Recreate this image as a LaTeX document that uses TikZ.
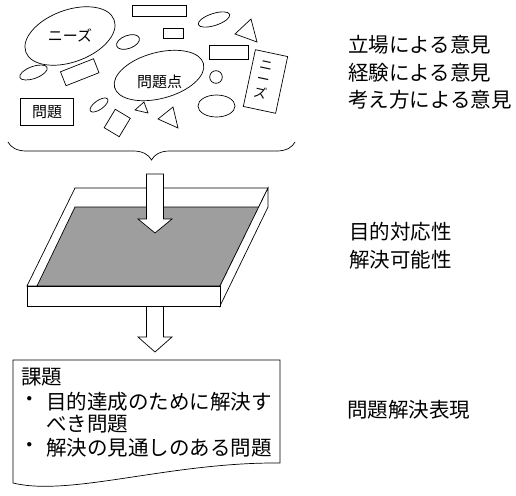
\documentclass[tikz,border=0pt]{standalone}
\usepackage{fontspec}
\setmainfont{Noto Sans CJK JP}
\usetikzlibrary{shapes.geometric,decorations.pathreplacing}
\begin{document}
\begin{tikzpicture}[x=1pt,y=-1pt,line width=0.7pt,
  shp/.style={draw, inner sep=0pt, outer sep=0pt},
  ell/.style={shp, ellipse},
  rct/.style={shp, rectangle},
  lbl/.style={inner sep=0pt, font=\fontsize{15}{16}\selectfont},
  side/.style={inner sep=0pt, anchor=west, font=\fontsize{20.5}{24}\selectfont},
  bul/.style={inner sep=0pt, font=\fontsize{20.5}{24}\selectfont},
  blockarrow/.style={draw, fill=white, line join=miter},
]
\useasboundingbox (0,0) rectangle (516,495);

% ellipses
\node[ell, minimum width=94pt, minimum height=52pt, rotate=20] (e1) at (70,36) {};
\node[ell, minimum width=92pt, minimum height=46pt, rotate=15] (e2) at (159,75.5) {};
\node[ell, minimum width=24pt, minimum height=13pt, rotate=20] (e3) at (128,42) {};
\node[ell, minimum width=33pt, minimum height=12pt, rotate=18] (e4) at (214,19.5) {};
\node[ell, minimum width=29pt, minimum height=12pt, rotate=20] (e5) at (33.5,72.5) {};
\node[ell, minimum width=21pt, minimum height=9pt, rotate=35] (e6) at (99,105) {};
\node[ell, minimum width=12.6pt, minimum height=12.6pt] (e7) at (216,77) {};
\node[ell, minimum width=37pt, minimum height=22pt] (e8) at (216.5,106) {};

% rectangles
\node[rct, minimum width=54pt, minimum height=11pt] (r1) at (159,10.5) {};
\node[rct, minimum width=20pt, minimum height=10pt] (r2) at (173,33) {};
\node[rct, minimum width=39pt, minimum height=14pt] (r3) at (228.5,52) {};
\node[rct, minimum width=53pt, minimum height=27pt] (r4) at (46.5,111.5) {};
\node[rct, minimum width=35.5pt, minimum height=15pt, rotate=21.5] (r5) at (79.75,72.25) {};
\node[rct, minimum width=17.5pt, minimum height=21.5pt, rotate=-31] (r6) at (117.25,123) {};
\node[rct, minimum width=33pt, minimum height=58pt, rotate=-12] (r7) at (265.5,81.5) {};

% triangles
\draw[line join=miter] (235,34) -- (251,19) -- (257,42) -- cycle;
\draw[line join=miter] (135,110) -- (144,102) -- (148,113) -- cycle;
\draw[line join=miter] (158,119) -- (173,107) -- (178,128) -- cycle;

% labels in shapes
\node[lbl] (t1) at (70,35) {ニーズ};
\node[lbl] (t2) at (159.5,82) {問題点};
\node[lbl] (t3) at (47,112) {問題};
\node[inner sep=0pt, align=center, rotate=-12, font=\fontsize{13}{14.5}\selectfont] (t4) at (263,80) {ニ\\ー\\ズ};

% brace
\draw[decorate, decoration={brace, amplitude=18pt, mirror}] (8,142) -- (295,142);

% tray
\draw[fill=white, line join=miter] (75,188) -- (268,188) -- (220,286) -- (27,286) -- cycle;
\draw[fill=black!38, line join=miter] (75,207) -- (259,207) -- (220,286) -- (37,286) -- cycle;
\draw[fill=white, line join=miter] (268,188) -- (268,207) -- (220,306) -- (220,286) -- cycle;

% arrow 2 (out of tray)
\draw[blockarrow] (146.5,306) -- (146.5,337) -- (138,337) -- (155,352) -- (172,337) -- (163.5,337) -- (163.5,306);
\draw[fill=white] (27,286) rectangle (220,306);

% arrow 1 (into tray)
\draw[blockarrow] (146.5,174) -- (163.5,174) -- (163.5,219) -- (172,219) -- (155,233) -- (138,219) -- (146.5,219) -- cycle;

% result box
\draw[line join=miter] (13,360) -- (280,360) -- (280,463) .. controls (170,462) and (70,497) .. (13,483) -- cycle;
\node[side] (k0) at (21,377) {課題};
\node[bul] (b1) at (30,402) {・};
\node[side] (k1) at (46,402) {目的達成のために解決す};
\node[side] (k2) at (46,424) {べき問題};
\node[bul] (b2) at (30,448) {・};
\node[side] (k3) at (46,448) {解決の見通しのある問題};

% right texts
\node[side] (s1) at (348,45) {立場による意見};
\node[side] (s2) at (348,73) {経験による意見};
\node[side] (s3) at (348,100) {考え方による意見};
\node[side] (s4) at (349,232) {目的対応性};
\node[side] (s5) at (349,260) {解決可能性};
\node[side] (s6) at (347,410) {問題解決表現};
\end{tikzpicture}
\end{document}
